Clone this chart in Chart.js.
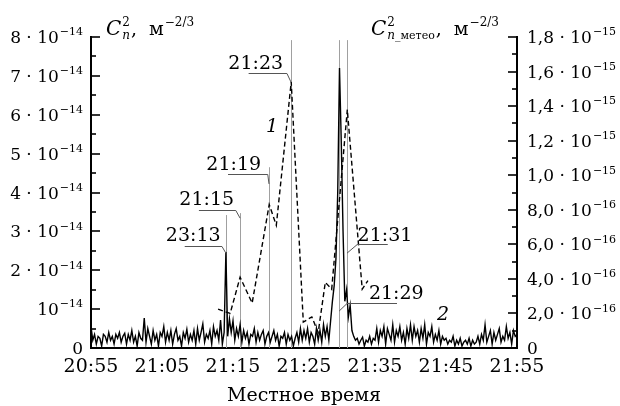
<!DOCTYPE html>
<html>
<head>
<meta charset="utf-8">
<script src="https://cdn.jsdelivr.net/npm/chart.js@4.4.0/dist/chart.umd.min.js"></script>
<style>
html, body { margin: 0; padding: 0; background: #fff; }
</style>
</head>
<body>
<canvas id="myChart" width="620" height="406"></canvas>
<script>
var SERIF = '"DejaVu Serif", "Liberation Serif", serif';

// x axis: minutes after 20:55
var xTickValues = [0, 10, 20, 30, 40, 50, 60];
var xTickLabels = ['20:55', '21:05', '21:15', '21:25', '21:35', '21:45', '21:55'];

// left axis, units of 1e-14
var leftTickValues = [0, 1, 2, 3, 4, 5, 6, 7, 8];
var leftTickBase = ['0', '10', '2 · 10', '3 · 10', '4 · 10', '5 · 10', '6 · 10', '7 · 10', '8 · 10'];
var leftTickExp = ['', '−14', '−14', '−14', '−14', '−14', '−14', '−14', '−14'];

// right axis, units of 1e-16
var rightTickValues = [0, 2, 4, 6, 8, 10, 12, 14, 16, 18];
var rightTickBase = ['0', '2,0 · 10', '4,0 · 10', '6,0 · 10', '8,0 · 10', '1,0 · 10', '1,2 · 10', '1,4 · 10', '1,6 · 10', '1,8 · 10'];
var rightTickExp = ['', '−16', '−16', '−16', '−16', '−15', '−15', '−15', '−15', '−15'];

// curve 1 (dashed, meteo, right axis): time in minutes, value in 1e-16
var meteoTimes  = [17.9, 19.6, 21.0, 22.7, 25.1, 26.1, 28.2, 29.9, 31.1, 32.0, 33.0, 33.9, 36.1, 38.2, 39.0];
var meteoValues = [2.25, 2.0, 4.1, 2.6, 8.3, 7.1, 15.4, 1.5, 1.8, 0.9, 3.8, 3.4, 13.8, 3.4, 3.9];

// curve 2 (solid, left axis): one sample every 0.25 min from 20:55, value in 1e-14
var sampleStep = 0.25;
var cn2Values = [
  0.55,0.2,0.35,0.1,0.3,0.25,0.05,0.35,0.3,0.15,0.4,0.2,0.3,0.1,0.35,0.25,0.4,0.15,0.3,0.38,
  0.1,0.35,0.2,0.45,0.15,0.3,0.05,0.4,0.25,0.2,0.77,0.15,0.5,0.3,0.1,0.45,0.2,0.35,0.05,0.4,
  0.3,0.55,0.15,0.4,0.2,0.45,0.1,0.35,0.5,0.2,0.3,0.05,0.4,0.25,0.48,0.15,0.35,0.2,0.45,0.1,
  0.5,0.2,0.4,0.62,0.15,0.35,0.25,0.45,0.1,0.55,0.3,0.45,0.2,0.72,0.1,0.4,2.47,0.3,0.75,0.4,
  0.7,0.2,0.5,0.3,0.6,0.15,0.45,0.25,0.4,0.1,0.35,0.3,0.5,0.15,0.4,0.2,0.35,0.45,0.1,0.3,
  0.4,0.15,0.3,0.45,0.2,0.35,0.05,0.3,0.25,0.4,0.1,0.35,0.2,0.3,0.05,0.25,0.4,0.15,0.5,0.2,
  0.45,0.25,0.5,0.15,0.4,0.3,0.1,0.5,0.2,0.45,0.15,0.6,0.3,0.55,0.2,0.7,1.2,1.6,2.3,4.0,
  7.2,5.3,3.0,1.2,1.5,0.8,1.1,0.45,0.3,0.2,0.25,0.1,0.2,0.28,0.05,0.2,0.15,0.3,0.1,0.25,
  0.2,0.5,0.15,0.45,0.3,0.55,0.1,0.5,0.35,0.2,0.6,0.15,0.45,0.3,0.55,0.2,0.4,0.1,0.5,0.25,
  0.6,0.2,0.55,0.3,0.45,0.15,0.5,0.25,0.6,0.1,0.4,0.3,0.55,0.15,0.35,0.2,0.45,0.1,0.3,0.2,
  0.25,0.1,0.2,0.15,0.3,0.05,0.2,0.1,0.25,0.05,0.15,0.2,0.1,0.25,0.05,0.2,0.1,0.15,0.3,0.1,
  0.35,0.2,0.6,0.15,0.3,0.45,0.1,0.4,0.2,0.35,0.5,0.15,0.3,0.2,0.55,0.25,0.4,0.1,0.45,0.3,0.35
];

// time labels with leader lines (x in minutes, y in left-axis units)
var marks = [
  { text: '23:13', t: 19.0,  top: 3.42, tx: 19.0,  tv: 2.44, u0: 13.2, u1: 18.45, uv: 2.62, lx: 14.4, lv: 2.74 },
  { text: '21:15', t: 21.0,  top: 3.47, tx: 21.0,  tv: 3.34, u0: 15.2, u1: 20.4,  uv: 3.55, lx: 16.3, lv: 3.67 },
  { text: '21:19', t: 25.07, top: 4.65, tx: 25.07, tv: 4.22, u0: 19.3, u1: 24.9,  uv: 4.47, lx: 20.1, lv: 4.59 },
  { text: '21:23', t: 28.17, top: 7.92, tx: 28.17, tv: 6.84, u0: 22.2, u1: 27.6,  uv: 7.07, lx: 23.2, lv: 7.17 },
  { text: '21:31', t: 36.06, top: 7.92, tx: 36.06, tv: 2.44, u0: 37.5, u1: 41.8,  uv: 2.67, lx: 41.4, lv: 2.74 },
  { text: '21:29', t: 34.95, top: 7.92, tx: 34.95, tv: 0.95, u0: 36.06, u1: 43.1, uv: 1.16, lx: 43.0, lv: 1.26 }
];

var curveNames = [
  { text: '1', t: 25.5, v: 5.68 },
  { text: '2', t: 49.6, v: 0.85 }
];

function drawSup(ctx, x, y, base, exp, align, size) {
  var small = Math.round(size * 0.62);
  ctx.font = size + 'px ' + SERIF;
  var wb = ctx.measureText(base).width;
  ctx.font = small + 'px ' + SERIF;
  var we = exp ? ctx.measureText(exp).width + 1 : 0;
  var x0 = align === 'right' ? x - wb - we : x;
  ctx.textAlign = 'left';
  ctx.textBaseline = 'alphabetic';
  ctx.font = size + 'px ' + SERIF;
  ctx.fillText(base, x0, y);
  if (exp) {
    ctx.font = small + 'px ' + SERIF;
    ctx.fillText(exp, x0 + wb + 1, y - size * 0.45);
  }
}

// C^2_n style axis title, returns nothing; sub is drawn as italic first letter + upright rest
function drawCn(ctx, x, yb, subRest) {
  var w;
  ctx.textAlign = 'left';
  ctx.textBaseline = 'alphabetic';
  ctx.font = 'italic 20px ' + SERIF;
  ctx.fillText('C', x, yb);
  w = ctx.measureText('C').width;
  var sx = x + w + 1;
  ctx.font = '12px ' + SERIF;
  ctx.fillText('2', sx, yb - 9);
  var w2 = ctx.measureText('2').width;
  ctx.font = 'italic 12px ' + SERIF;
  ctx.fillText('n', sx, yb + 4);
  var wn = ctx.measureText('n').width;
  if (subRest) {
    ctx.font = '11px ' + SERIF;
    ctx.fillText(subRest, sx + wn, yb + 4);
    wn += ctx.measureText(subRest).width;
  }
  var cx = sx + Math.max(w2, wn) + 1;
  ctx.font = '19px ' + SERIF;
  ctx.fillText(',', cx, yb);
  var mx = cx + 18;
  ctx.fillText('м', mx, yb);
  var wm = ctx.measureText('м').width;
  ctx.font = '12px ' + SERIF;
  ctx.fillText('−2/3', mx + wm + 1, yb - 9);
}

var decorPlugin = {
  id: 'decor',
  beforeDatasetsDraw: function(chart) {
    var ctx = chart.ctx, xs = chart.scales.x, ys = chart.scales.y;
    var bottom = chart.chartArea.bottom;
    ctx.save();
    ctx.strokeStyle = '#a0a0a0';
    ctx.lineWidth = 1;
    marks.forEach(function(m) {
      var px = Math.round(xs.getPixelForValue(m.t)) + 0.5;
      ctx.beginPath();
      ctx.moveTo(px, ys.getPixelForValue(m.top));
      ctx.lineTo(px, bottom);
      ctx.stroke();
    });
    ctx.restore();
  },
  afterDraw: function(chart) {
    var ctx = chart.ctx, xs = chart.scales.x, ys = chart.scales.y, yr = chart.scales.y1;
    var area = chart.chartArea;
    ctx.save();
    ctx.fillStyle = '#000';
    ctx.strokeStyle = '#000';

    // inward ticks
    ctx.lineWidth = 1.6;
    for (var v = 0.5; v <= 8; v += 0.5) {
      var py = Math.round(ys.getPixelForValue(v));
      var len = (v % 1 === 0) ? 9 : 5;
      ctx.beginPath();
      ctx.moveTo(area.left, py);
      ctx.lineTo(area.left + len, py);
      ctx.stroke();
    }
    for (var r = 1; r <= 18; r += 1) {
      var pr = Math.round(yr.getPixelForValue(r));
      var lr = (r % 2 === 0) ? 9 : 5;
      ctx.beginPath();
      ctx.moveTo(area.right, pr);
      ctx.lineTo(area.right - lr, pr);
      ctx.stroke();
    }

    // tick labels
    leftTickValues.forEach(function(val, i) {
      var py = ys.getPixelForValue(val);
      drawSup(ctx, area.left - 8, py + 6, leftTickBase[i], leftTickExp[i], 'right', 17);
    });
    rightTickValues.forEach(function(val, i) {
      var py = yr.getPixelForValue(val);
      drawSup(ctx, area.right + 10, py + 6, rightTickBase[i], rightTickExp[i], 'left', 17);
    });

    // axis titles
    drawCn(ctx, 106, 35, '');
    drawCn(ctx, 371, 35, '_метео');

    // time marks with leader lines
    ctx.strokeStyle = '#555';
    ctx.lineWidth = 1;
    marks.forEach(function(m) {
      var x0 = xs.getPixelForValue(m.u0), x1 = xs.getPixelForValue(m.u1);
      var uy = Math.round(ys.getPixelForValue(m.uv)) + 0.5;
      var tx = xs.getPixelForValue(m.tx), ty = ys.getPixelForValue(m.tv);
      var near = Math.abs(tx - x1) < Math.abs(tx - x0) ? x1 : x0;
      ctx.beginPath();
      ctx.moveTo(x0, uy);
      ctx.lineTo(x1, uy);
      ctx.moveTo(near, uy);
      ctx.lineTo(tx, ty);
      ctx.stroke();
      ctx.font = '19px ' + SERIF;
      ctx.textAlign = 'center';
      ctx.textBaseline = 'alphabetic';
      ctx.fillText(m.text, xs.getPixelForValue(m.lx), ys.getPixelForValue(m.lv));
    });

    curveNames.forEach(function(c) {
      ctx.font = 'italic 19px ' + SERIF;
      ctx.textAlign = 'center';
      ctx.textBaseline = 'middle';
      ctx.fillText(c.text, xs.getPixelForValue(c.t), ys.getPixelForValue(c.v));
    });
    ctx.restore();
  }
};

function init() {
  var solidData = cn2Values.map(function(v, i) { return { x: i * sampleStep, y: v }; });
  var meteoData = meteoTimes.map(function(t, i) { return { x: t, y: meteoValues[i] }; });

  var ctx = document.getElementById('myChart').getContext('2d');
  var myChart = new Chart(ctx, {
    type: 'line',
    data: {
      datasets: [
        {
          label: '2',
          data: solidData,
          yAxisID: 'y',
          borderColor: '#000',
          borderWidth: 1.4,
          pointRadius: 0,
          tension: 0
        },
        {
          label: '1',
          data: meteoData,
          yAxisID: 'y1',
          borderColor: '#000',
          borderWidth: 1.4,
          borderDash: [5, 3],
          pointRadius: 0,
          tension: 0
        }
      ]
    },
    options: {
      responsive: false,
      animation: false,
      layout: { padding: { top: 37, left: 0, right: 0, bottom: 0 } },
      plugins: { legend: { display: false }, tooltip: { enabled: false } },
      scales: {
        x: {
          type: 'linear',
          min: 0,
          max: 60,
          afterBuildTicks: function(s) { s.ticks = xTickValues.map(function(v) { return { value: v }; }); },
          afterFit: function(s) { s.height = 58; },
          ticks: {
            color: '#000',
            padding: 8,
            maxRotation: 0,
            font: { family: SERIF, size: 19 },
            callback: function(v) { return xTickLabels[xTickValues.indexOf(v)]; }
          },
          grid: { display: false, drawTicks: false },
          border: { color: '#000', width: 2 },
          title: {
            display: true,
            text: 'Местное время',
            color: '#000',
            padding: 0,
            font: { family: SERIF, size: 19, lineHeight: 1 }
          }
        },
        y: {
          position: 'left',
          min: 0,
          max: 8,
          afterFit: function(s) { s.width = 91; },
          ticks: { display: false },
          grid: { display: false, drawTicks: false },
          border: { color: '#000', width: 2 }
        },
        y1: {
          position: 'right',
          min: 0,
          max: 18,
          afterFit: function(s) { s.width = 103; },
          ticks: { display: false },
          grid: { display: false, drawTicks: false },
          border: { color: '#000', width: 2 }
        }
      }
    },
    plugins: [decorPlugin]
  });
}

init();
</script>
</body>
</html>
